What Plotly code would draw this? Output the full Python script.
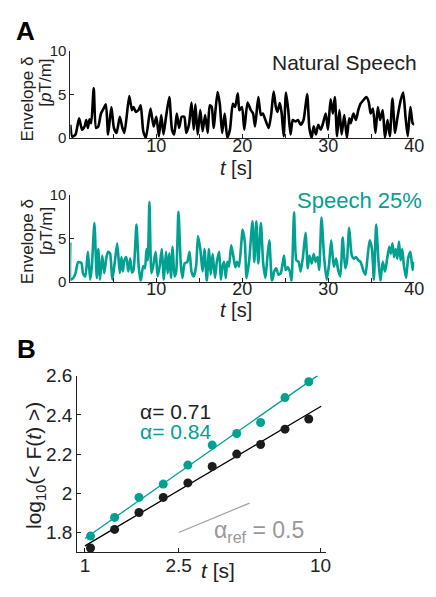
import plotly.graph_objects as go
import numpy as np

W, H = 436, 597

# ---------------- data ----------------
nat_t = [0.0, 0.22, 0.60, 1.02, 1.36, 1.66, 1.85, 2.04, 2.23, 2.42, 2.72, 2.99, 3.25, 3.56, 3.86, 4.13,
         4.39, 4.77, 5.07, 5.38, 5.75, 6.06, 6.29, 6.85, 7.16, 7.35, 7.61, 7.91, 8.18, 8.48, 8.79,
         9.32, 9.69, 10.0, 10.30, 10.57, 10.83, 11.13, 11.51, 11.82, 12.08, 12.38, 12.65, 12.95,
         13.25, 13.48, 13.79, 14.09, 14.35, 14.54, 14.81, 15.11, 15.38, 15.68, 15.98, 16.21, 16.44,
         16.66, 17.12, 17.38, 17.65, 17.95, 18.25, 18.56, 18.90, 19.16, 19.47,
         19.66, 19.96, 20.23, 20.61, 20.99, 21.25, 21.48, 21.86, 22.16, 22.39, 22.69, 23.07, 23.37,
         23.64, 23.90, 24.09, 24.36, 24.58, 24.81, 25.08, 25.34, 25.61, 25.87, 26.18, 26.48, 26.78,
         27.12, 27.54, 27.80, 28.07, 28.30, 28.56, 28.83, 29.13, 29.39, 29.70, 29.96, 30.27, 30.53,
         30.76, 31.02, 31.29, 31.55, 31.86, 32.16, 32.43, 32.61, 32.92, 33.22, 33.49, 33.75, 34.05,
         34.43, 34.70, 34.93, 35.19, 35.49, 35.76, 36.02, 36.33, 36.59, 36.89, 37.16, 37.46, 37.77,
         38.03, 38.41, 38.71, 38.98, 39.24, 39.55, 39.81, 40.0]
nat_v = [1.52, 0.15, 0.41, 2.26, 0.96, 1.33, 2.07, 1.15, 2.15, 1.70, 5.70, 1.15, 1.33, 2.81, 3.37, 3.85,
         0.41, 3.56, 1.15, 0.59, 2.44, 1.15, 0.59, 4.81, 3.19, 3.56, 3.00, 3.19, 3.74, 0.78, 0.04,
         3.37, 1.33, 2.44, 0.22, 2.63, 0.41, 2.44, 4.70, 0.96, 0.41, 2.81, 1.15, 2.44,
         2.44, 0.59, 1.52, 4.07, 0.96, 3.85, 0.41, 3.19, 0.78, 2.63, 0.59, 3.74, 3.56,
         1.15, 5.26, 3.93, 0.59, 2.81, 0.04, 0.96, 3.93, 3.56, 5.11,
         3.19, 3.56, 0.96, 4.07, 3.19, 2.81, 1.33, 4.70, 2.63, 2.81, 2.07, 1.15, 2.81,
         5.33, 3.56, 3.00, 4.00, 2.81, 0.22, 5.22, 3.19, 0.41, 2.07, 1.89, 2.07, 1.52,
         2.07, 5.04, 1.15, 0.04, 1.33, 0.41, 1.52, 0.96, 1.70, 2.81, 0.96, 4.44, 2.81,
         4.70, 0.22, 3.19, 0.41, 2.63, 0.04, 2.26, 1.70, 2.81, 2.07, 3.19, 3.93, 4.30,
         4.70, 4.15, 2.81, 3.37, 0.59, 3.56, 2.07, 3.19, 0.04, 2.07, 0.22, 4.52, 0.59,
         2.26, 4.30, 5.22, 2.44, 0.22, 3.56, 1.70, 1.52]

mod_t = [0.0, 0.07, 0.34, 0.60, 0.91, 1.29, 1.47, 1.74, 2.04, 2.31, 2.50, 2.80, 3.07, 3.25, 3.44, 3.71,
         3.94, 4.20, 4.39, 4.62, 4.88, 5.15, 5.45, 5.75, 5.94, 6.10, 6.29, 6.51, 6.74, 6.97, 7.16,
         7.35, 7.69, 7.95, 8.18, 8.48, 8.67, 8.86, 9.01, 9.20, 9.43, 9.62, 9.92, 10.15, 10.38, 10.64,
         10.87, 11.13, 11.32, 11.51, 11.70, 11.89, 12.12, 12.31, 12.57, 12.84, 13.03, 13.29, 13.60,
         13.86, 14.09, 14.35, 14.62, 14.85, 15.11, 15.38, 15.60, 15.87, 16.13, 16.32, 16.55, 16.82,
         17.04, 17.31, 17.50, 17.69, 17.88, 18.07, 18.25, 18.44, 18.71, 18.97, 19.20, 19.39, 19.62,
         20.04, 20.30, 20.49, 20.80, 21.18, 21.40, 21.63, 21.86, 22.16, 22.43, 22.69, 22.92, 23.14,
         23.45, 23.71, 23.94, 24.21, 24.47, 24.85, 25.04, 25.27, 25.53, 25.72, 26.02, 26.29, 26.55,
         26.78, 27.05, 27.35, 27.61, 27.80, 28.07, 28.30, 28.52, 28.75, 28.94, 29.21, 29.51, 29.81,
         30.08, 30.34, 30.64, 30.91, 31.14, 31.40, 31.67, 31.97, 32.16, 32.43, 32.73, 32.99, 33.22,
         33.49, 33.75, 34.05, 34.32, 34.55, 34.81, 35.08, 35.30, 35.57, 35.83, 36.06, 36.33, 36.59,
         36.82, 37.08, 37.27, 37.46, 37.65, 37.84, 38.03, 38.22, 38.41, 38.60, 38.79, 39.05, 39.28,
         39.55, 39.81, 40.0]
mod_v = [4.53, 0.22, 0.41, 0.97, 2.25, 2.13, 0.97, 0.60, 3.45, 0.22, 1.72, 6.78, 0.41, 3.78, 0.22, 3.00,
         0.97, 2.81, 3.45, 3.26, 0.22, 2.10, 4.42, 0.97, 2.85, 1.16, 2.47, 2.85, 1.16, 2.66, 1.05,
         1.35, 6.59, 1.72, 0.04, 1.80, 1.54, 3.78, 2.47, 9.21, 0.97, 1.72, 3.45, 0.60, 1.72, 3.78,
         0.22, 3.45, 0.97, 3.26, 0.41, 4.04, 0.60, 1.16, 8.09, 2.10, 0.41, 2.10, 2.28,
         3.45, 1.16, 0.60, 1.72, 5.28, 3.78, 1.16, 3.78, 0.04, 3.78, 0.79, 3.22, 0.41,
         2.28, 3.45, 0.22, 1.72, 2.28, 0.41, 2.28, 1.72, 4.19, 2.85, 1.65, 2.28, 1.72,
         6.03, 4.49, 0.41, 2.47, 6.97, 2.28, 6.97, 2.10, 6.78, 2.10, 0.41, 2.85, 4.79,
         0.04, 1.16, 1.54, 0.79, 0.97, 3.00, 1.35, 1.65, 1.16, 0.04, 8.02, 2.47, 2.28,
         1.16, 2.85, 5.66, 1.54, 3.00, 2.10, 3.22, 2.28, 2.85, 1.35, 7.42, 2.85, 0.22,
         1.91, 4.79, 1.72, 2.66, 1.35, 0.60, 5.09, 1.54, 2.28, 6.22, 3.03, 2.66, 2.85,
         2.47, 2.28, 1.35, 0.79, 2.66, 4.79, 3.78, 0.22, 6.59, 2.47, 0.04, 2.28, 1.16,
         2.47, 4.04, 3.22, 4.42, 2.85, 3.78, 2.66, 4.64, 2.47, 3.78, 1.91, 0.41, 2.66,
         3.45, 1.35, 2.28]

dfa_t = [1.056, 1.336, 1.696, 2.15, 2.735, 3.47, 4.41, 5.57, 7.07, 8.92]
dfa_nat = [1.721, 1.816, 1.902, 1.979, 2.053, 2.137, 2.200, 2.249, 2.327, 2.379]
dfa_mod = [1.782, 1.877, 1.979, 2.047, 2.144, 2.246, 2.305, 2.361, 2.488, 2.569]

fit_nat = {"b": 1.732, "alpha": 0.71, "t": [1.0, 10.07]}
fit_mod = {"b": 1.770, "alpha": 0.84, "t": [1.0, 9.73]}
ref_t = [2.5, 5.0]
ref_y = [1.80, 1.95]

time_ticks = [10, 20, 30, 40]
time_minor_ticks = [5, 15, 25, 35]
env_ticks = [0, 5, 10]
dfa_yticks = [1.8, 2.0, 2.2, 2.4, 2.6]
dfa_yticktext = ["1.8", "2", "2.2", "2.4", "2.6"]
dfa_xticks = [1, 2.5, 10]
dfa_xticktext = ["1", "2.5", "10"]

# ---------------- style ----------------
BLACK = "#000000"
TEAL = "#00A191"
GRAY = "#A0A0A0"
DOT_BLACK = "#1c1c1c"
FONT = "Liberation Sans, Arial, Helvetica, sans-serif"


def px(x):
    return x / W


def py(y):
    return 1 - y / H


fig = go.Figure()

fig.add_trace(go.Scatter(x=nat_t, y=nat_v, mode="lines", xaxis="x", yaxis="y",
                         line=dict(color=BLACK, width=2.6, shape="spline", smoothing=0.6),
                         showlegend=False))
fig.add_trace(go.Scatter(x=mod_t, y=mod_v, mode="lines", xaxis="x2", yaxis="y2",
                         line=dict(color=TEAL, width=2.6, shape="spline", smoothing=0.6),
                         showlegend=False))

for fit, col in ((fit_nat, BLACK), (fit_mod, TEAL)):
    ft = np.array(fit["t"])
    fig.add_trace(go.Scatter(x=ft, y=fit["b"] + fit["alpha"] * np.log10(ft), mode="lines",
                             xaxis="x3", yaxis="y3", line=dict(color=col, width=1.3),
                             showlegend=False))
fig.add_trace(go.Scatter(x=ref_t, y=ref_y, mode="lines", xaxis="x3", yaxis="y3",
                         line=dict(color=GRAY, width=1.2), showlegend=False))
fig.add_trace(go.Scatter(x=dfa_t, y=dfa_nat, mode="markers", xaxis="x3", yaxis="y3",
                         marker=dict(color=DOT_BLACK, size=9), showlegend=False, cliponaxis=False))
fig.add_trace(go.Scatter(x=dfa_t, y=dfa_mod, mode="markers", xaxis="x3", yaxis="y3",
                         marker=dict(color=TEAL, size=9), showlegend=False, cliponaxis=False))

axis_common = dict(showline=True, linecolor="#222", linewidth=1, ticks="inside", ticklen=4,
                   tickcolor="#222", showgrid=False, zeroline=False, mirror=False)
minor_x = dict(tickvals=time_minor_ticks, ticks="inside", ticklen=4, tickcolor="#222", showgrid=False)

fig.update_layout(
    width=W, height=H, margin=dict(l=0, r=0, t=0, b=0),
    paper_bgcolor="white", plot_bgcolor="white",
    font=dict(family=FONT, color="#222"),
    xaxis=dict(domain=[px(72), px(424)], range=[0, 40], anchor="y", tickvals=time_ticks,
               minor=minor_x, tickfont=dict(size=18), ticklabelstandoff=-9, **axis_common),
    yaxis=dict(domain=[py(132), py(42)], range=[0, 10], anchor="x", tickvals=env_ticks,
               tickfont=dict(size=15), **axis_common),
    xaxis2=dict(domain=[px(72), px(424)], range=[0, 40], anchor="y2", tickvals=time_ticks,
                minor=minor_x, tickfont=dict(size=18), ticklabelstandoff=-9, **axis_common),
    yaxis2=dict(domain=[py(280), py(191)], range=[0, 10], anchor="x2", tickvals=env_ticks,
                tickfont=dict(size=15), **axis_common),
    xaxis3=dict(domain=[px(79), px(334)], type="log", range=[-0.033, 1.025], anchor="y3",
                tickvals=dfa_xticks, ticktext=dfa_xticktext, tickfont=dict(size=19),
                ticklabelstandoff=-4, **axis_common),
    yaxis3=dict(domain=[py(559), py(377)], range=[1.70, 2.6], anchor="x3", tickvals=dfa_yticks,
                ticktext=dfa_yticktext, tickfont=dict(size=19), **axis_common),
)

ann = []


def add(text, x, y, size, color="#222", xa="center", ya="middle", angle=0):
    ann.append(dict(text=text, x=px(x), y=py(y), xref="paper", yref="paper", showarrow=False,
                    xanchor=xa, yanchor=ya, textangle=angle,
                    font=dict(size=size, color=color, family=FONT)))


add("<b>A</b>", 26, 22, 26, color="#000")
add("<b>B</b>", 27, 350, 26, color="#000")
add("Natural Speech", 429, 54, 21, xa="right")
add("Speech 25%", 434, 196, 22, color=TEAL, xa="right")
add("Envelope δ", 28, 92, 17, angle=-90)
add("[<i>p</i>T/m]", 47, 75, 17, angle=-90)
add("Envelope δ", 28, 239, 17, angle=-90)
add("[<i>p</i>T/m]", 47, 228, 17, angle=-90)
add("<i>t</i> [s]", 242, 163, 20)
add("<i>t</i> [s]", 242, 309, 20)
add("<i>t</i> [s]", 223, 578, 21)
add("log<sub>10</sub>(&lt; F(<i>t</i>) &gt;)", 36, 470, 21, angle=-90)
add("α= 0.71", 141, 414, 21, xa="left")
add("α= 0.84", 141, 435, 21, color=TEAL, xa="left")
add("α<sub>ref</sub> = 0.5", 217, 538, 23, color="#999999", xa="left")

fig.update_layout(annotations=ann)
fig.write_html("out.html")
